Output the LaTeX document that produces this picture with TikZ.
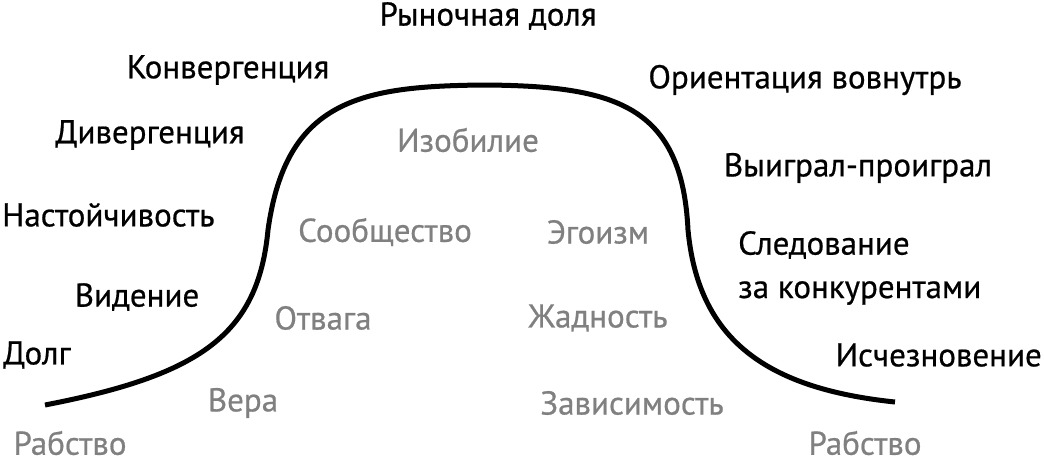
\documentclass[tikz,border=0pt]{standalone}
\usepackage{fontspec}
\setmainfont{PT Sans}[FakeBold=0.6]
\begin{document}
\begin{tikzpicture}[x=1pt,y=-1pt,
  dk/.style={font=\fontsize{33}{37}\selectfont, text=black, inner sep=0},
  gr/.style={font=\fontsize{33}{37}\selectfont, text=black!50, inner sep=0}]
\useasboundingbox (0,0) rectangle (1044,464);
\coordinate (s) at (45,405);
\coordinate (e) at (895,402);
\draw[line width=5pt] (s) .. controls (200,375) and (258,335) .. (268,230)
  .. controls (286,100) and (360,86) .. (485,85)
  .. controls (615,86) and (682,105) .. (688,230)
  .. controls (698,335) and (760,388) .. (e);
\node[dk] (a1) at (488,16) {Рыночная доля};
\node[dk] (a2) at (228,70) {Конвергенция};
\node[dk] (a3) at (805,80) {Ориентация вовнутрь};
\node[dk] (a4) at (150,135) {Дивергенция};
\node[gr] (a5) at (468,140) {Изобилие};
\node[dk] (a6) at (858,168) {Выиграл-проиграл};
\node[dk,anchor=west] (a7) at (2,215) {Настойчивость};
\node[gr] (a8) at (385,232) {Сообщество};
\node[gr] (a9) at (598,232) {Эгоизм};
\node[dk,anchor=west] (a10) at (738,245) {Следование};
\node[dk,anchor=west] (a11) at (738,293) {за конкурентами};
\node[dk] (a12) at (137,297) {Видение};
\node[gr] (a13) at (323,318) {Отвага};
\node[gr] (a14) at (598,318) {Жадность};
\node[dk,anchor=west] (a15) at (3,355) {Долг};
\node[dk,anchor=east] (a16) at (1042,355) {Исчезновение};
\node[gr] (a17) at (243,403) {Вера};
\node[gr] (a18) at (632,403) {Зависимость};
\node[gr] (a19) at (70,443) {Рабство};
\node[gr] (a20) at (865,443) {Рабство};
\end{tikzpicture}
\end{document}
